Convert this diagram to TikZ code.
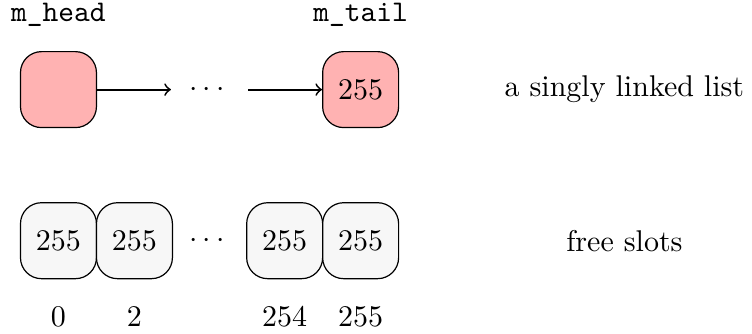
\documentclass[tikz,border=0pt]{standalone}
\usepackage{amsfonts, amsmath, amssymb}

\begin{document}
\begin{tikzpicture}[
        slot/.style={
            % The shape:
            rectangle,
            rounded corners=7pt,
            % The size:
            minimum size=.89cm,
            % The border
            draw=black,
            % The filling
            fill=black!3
        },
        listnode/.style={
            slot,
            fill=red!30
        },
        link/.style={
            ->,
            semithick
        }]

        \useasboundingbox (-0.685,-1.09) rectangle (8.125,2.82);

        % the list
        \node [listnode] (head) at (0,1.77) {};
        \node [listnode] (tail) at (3.54,1.77) {255};
        \node [inner sep=6pt] (ldots) at (1.77,1.77) {$\cdots$};
        \draw [link] (head) -- (ldots);
        \draw [link] (ldots) -- (tail);
        \node (headname) at (0,2.65) {\texttt{m\_head}};
        \node (tailname) at (3.54,2.65) {\texttt{m\_tail}};
        \node (listtext) at (6.63,1.77) {a singly linked list};

        % the free slots
        \foreach \x/\xtext/\xname in {0/0/s0, 0.89/2/s1, 2.65/254/s2, 3.54/255/s3}
        {
            \node [slot] (\xname) at (\x,0) {255};
            \node (\xname num) at (\x,-.89) {\xtext};
        }
        \node (sdots) at (1.77,0) {$\cdots$};
        \node (slotstext) at (6.63,0) {free slots};

    \end{tikzpicture}
\end{document}
